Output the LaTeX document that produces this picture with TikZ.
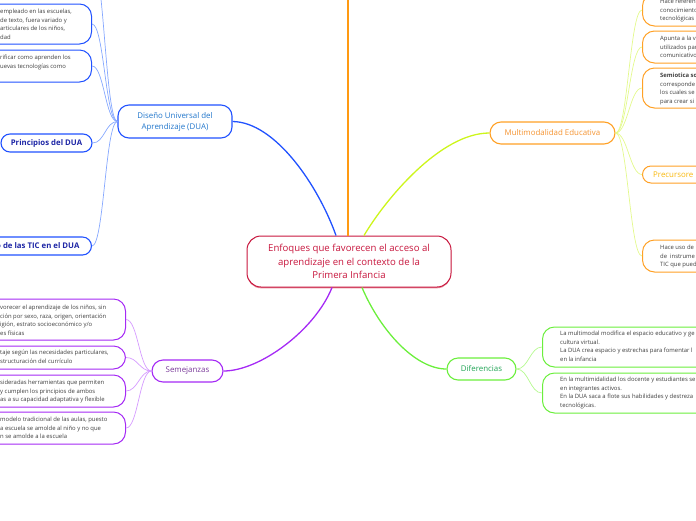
\documentclass[tikz,border=0pt]{standalone}
\usepackage{fontspec}
\setmainfont{Open Sans}
\usepackage{tikz}
\usetikzlibrary{shadows}

\definecolor{RootRed}{HTML}{C8173E}
\definecolor{RootPink}{HTML}{E8909F}
\definecolor{DuaBlue}{HTML}{2152FF}
\definecolor{DuaText}{HTML}{2277CC}
\definecolor{DuaNavy}{HTML}{1E26A6}
\definecolor{DuaLight}{HTML}{86A8FF}
\definecolor{TopOrange}{HTML}{FF9A12}
\definecolor{MultiOrange}{HTML}{FFA126}
\definecolor{MultiText}{HTML}{F59431}
\definecolor{MultiLime}{HTML}{CDF51C}
\definecolor{MultiLight}{HTML}{E3F98C}
\definecolor{PrecYellow}{HTML}{F9B90F}
\definecolor{SemePurple}{HTML}{A52AF5}
\definecolor{SemeText}{HTML}{7A3A9A}
\definecolor{SemeLight}{HTML}{D59BFF}
\definecolor{DifGreen}{HTML}{6BEF3C}
\definecolor{DifText}{HTML}{21A556}
\definecolor{DifLight}{HTML}{B4F98E}
\definecolor{LeafGray}{HTML}{404040}

\begin{document}
\begin{tikzpicture}[x=1pt, y=-1pt,
  root/.style={draw=RootRed, line width=1pt, rounded corners=14pt, fill=white, text=RootRed, align=center,
    font=\fontsize{9.6}{13.5}\selectfont, minimum width=204pt, minimum height=51pt, inner sep=0pt,
    drop shadow={shadow xshift=0pt, shadow yshift=-1.3pt, fill=RootPink, opacity=1}},
  topic/.style={line width=1.1pt, rounded corners=11pt, fill=white, align=center,
    font=\fontsize{7.9}{11}\selectfont, minimum height=22pt, inner sep=0pt},
  subtopic/.style={topic, text=DuaNavy, font=\bfseries\fontsize{7.8}{11}\selectfont, minimum height=18pt, rounded corners=9pt},
  leafbox/.style={line width=1pt, rounded corners=12pt, fill=white, inner sep=0pt},
  leaf/.style={anchor=north west, align=left, inner sep=0pt, text=LeafGray, font=\fontsize{5.9}{8.6}\selectfont},
  twig/.style={line width=0.7pt},
  branch/.style={line width=1.3pt}
]
  \useasboundingbox (0,0) rectangle (696,520);
  \clip (0,0) rectangle (696,520);

  % Central topic
  \node[root] (root) at (349,261.5) {Enfoques que favorecen el acceso al\\aprendizaje en el contexto de la\\Primera Infancia};

  % DUA branch
  \node[topic, draw=DuaBlue, text=DuaText, minimum width=114pt, minimum height=33pt] (dua) at (175,121.5) {Diseño Universal del\\Aprendizaje (DUA)};
  \coordinate (dua0) at (92,-40);
  \node[leafbox, draw=DuaBlue, minimum width=130pt, minimum height=40pt, anchor=east] (dua1) at (92,24) {};
  \node[leaf] at (0,9) {empleado en las escuelas,\\de texto, fuera variado y\\articulares de los niños,\\dad};
  \node[leafbox, draw=DuaBlue, minimum width=130pt, minimum height=32pt, anchor=east] (dua2) at (92,66) {};
  \node[leaf] at (0,55) {rificar como aprenden los\\uevas tecnologías como};
  \node[subtopic, draw=DuaBlue, minimum width=91pt] (dua3) at (46.5,143) {Principios del DUA};
  \node[subtopic, draw=DuaBlue, inner xsep=12pt, anchor=east] (dua4) at (92,246) {o de las TIC en el DUA};

  % Multimodalidad branch
  \node[topic, draw=MultiOrange, text=MultiText, minimum width=125pt] (multi) at (552.5,133) {Multimodalidad Educativa};
  \node[leafbox, draw=MultiOrange, minimum width=90pt, minimum height=32pt, anchor=west] (multi1) at (642,10) {};
  \node[leaf] at (660,-1) {Hace referen\\conocimiento\\tecnológicas};
  \node[leafbox, draw=MultiOrange, minimum width=90pt, minimum height=32pt, anchor=west] (multi2) at (642,47) {};
  \node[leaf] at (660,36) {Apunta a la v\\utilizados par\\comunicativo};
  \node[leafbox, draw=MultiOrange, minimum width=90pt, minimum height=40pt, anchor=west] (multi3) at (642,88) {};
  \node[leaf] at (660,73) {\textbf{Semiotica soc}\\corresponde\\los cuales se\\para crear si};
  \node[leafbox, draw=MultiOrange, rounded corners=8.5pt, minimum width=90pt, minimum height=17pt, anchor=west] (multi4) at (642,174.5) {};
  \node[anchor=west, inner sep=0pt, text=PrecYellow, font=\fontsize{7.9}{11}\selectfont] at (653,174.5) {Precursore};
  \node[leafbox, draw=MultiOrange, minimum width=90pt, minimum height=32pt, anchor=west] (multi5) at (642,256) {};
  \node[leaf] at (660,245) {Hace uso de\\de\ \ instrume\\TIC que pued};

  % Semejanzas branch
  \node[topic, draw=SemePurple, text=SemeText, minimum width=71pt] (seme) at (187.5,371) {Semejanzas};
  \node[leafbox, draw=SemePurple, minimum width=160pt, minimum height=41pt, anchor=east] (seme1) at (126,319.5) {};
  \node[leaf] at (0,305) {vorecer el aprendizaje de los niños, sin\\ción por sexo, raza, origen, orientación\\igión, estrato socioeconómico y/o\\es físicas};
  \node[leafbox, draw=SemePurple, minimum width=160pt, minimum height=23pt, anchor=east] (seme2) at (126,357.5) {};
  \node[leaf] at (0,350) {taje según las necesidades particulares,\\structuración del currículo};
  \node[leafbox, draw=SemePurple, minimum width=160pt, minimum height=32pt, anchor=east] (seme3) at (126,391) {};
  \node[leaf] at (0,380) {sideradas herramientas que permiten\\y cumplen los principios de ambos\\as a su capacidad adaptativa y flexible};
  \node[leafbox, draw=SemePurple, minimum width=160pt, minimum height=32pt, anchor=east] (seme4) at (126,428) {};
  \node[leaf] at (0,417) {modelo tradicional de las aulas, puesto\\a escuela se amolde al niño y no que\\n se amolde a la escuela};

  % Diferencias branch
  \node[topic, draw=DifGreen, text=DifText, minimum width=69pt] (dif) at (481.5,369) {Diferencias};
  \node[leafbox, draw=DifGreen, minimum width=170pt, minimum height=40pt, anchor=west] (dif1) at (542,347) {};
  \node[leaf] at (560,331) {La multimodal modifica el espacio educativo y ge\\cultura virtual.\\La DUA crea espacio y estrechas para fomentar l\\en la infancia};
  \node[leafbox, draw=DifGreen, minimum width=170pt, minimum height=40pt, anchor=west] (dif2) at (542,393) {};
  \node[leaf] at (560,377) {En la multimidalidad los docente y estudiantes se\\en integrantes activos.\\En la DUA saca a flote sus habilidades y destreza\\tecnológicas.};

  % Main branches
  \coordinate (up) at (348,-20);
  \draw[TopOrange, line width=1.8pt] ([xshift=-1pt]root.north) -- (up);
  \draw[branch, DuaBlue] ([xshift=-13pt]root.north) .. controls (318,185) and (275,122) .. (dua.east);
  \draw[branch, MultiLime] ([xshift=15pt]root.north) .. controls (385,200) and (440,133) .. (multi.west);
  \draw[branch, SemePurple] ([xshift=-17pt]root.south) .. controls (315,330) and (260,371) .. (seme.east);
  \draw[branch, DifGreen] ([xshift=13pt]root.south) .. controls (380,330) and (415,369) .. (dif.west);

  % Twigs
  \foreach \k in {dua0, dua1.east, dua2.east, dua3.east, dua4.east}
    \draw[twig, DuaLight] (dua.west) .. controls +(-12,0) and +(12,0) .. (\k);
  \foreach \k in {1,...,4}
    \draw[twig, SemeLight] (seme.west) .. controls +(-12,0) and +(12,0) .. (seme\k.east);
  \foreach \k in {1,...,5}
    \draw[twig, MultiLight] (multi.east) .. controls +(12,0) and +(-12,0) .. (multi\k.west);
  \foreach \k in {1,2}
    \draw[twig, DifLight] (dif.east) .. controls +(12,0) and +(-12,0) .. (dif\k.west);
\end{tikzpicture}
\end{document}
